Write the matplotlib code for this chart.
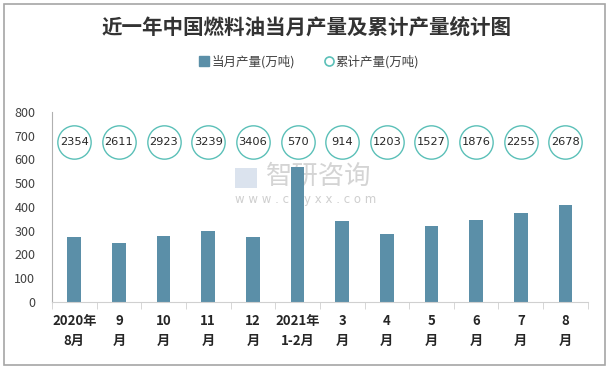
import matplotlib
matplotlib.use("Agg")
import matplotlib.pyplot as plt
from matplotlib.patches import Rectangle
from matplotlib.lines import Line2D

plt.rcParams['font.family'] = ['Noto Sans CJK SC', 'DejaVu Sans']

# 数据
months = ['2020年\n8月', '9\n月', '10\n月', '11\n月', '12\n月', '2021年\n1-2月',
          '3\n月', '4\n月', '5\n月', '6\n月', '7\n月', '8\n月']
monthly = [274, 247, 278, 299, 274, 570, 341, 286, 320, 345, 375, 408]
cumulative = [2354, 2611, 2923, 3239, 3406, 570, 914, 1203, 1527, 1876, 2255, 2678]
circle_level = 675

bar_color = '#5B8FA8'
circle_color = '#5BC0B8'

fig = plt.figure(figsize=(6.11, 3.69), dpi=100)
fig.patches.append(Rectangle((0.006, 0.01), 0.984, 0.978, transform=fig.transFigure,
                             fill=False, edgecolor='#a6a6a6', linewidth=1.2))

ax = fig.add_axes([0.085, 0.1816, 0.877, 0.515])
x = list(range(len(months)))
ax.bar(x, monthly, width=0.31, color=bar_color, zorder=2)
ax.plot(x, [circle_level] * len(x), linestyle='none', marker='o', markersize=24,
        markerfacecolor='white', markeredgecolor=circle_color, markeredgewidth=1.0, zorder=3)
for xi, v in zip(x, cumulative):
    ax.text(xi, circle_level, str(v), ha='center', va='center', fontsize=8.2,
            color='#262626', zorder=4, family='DejaVu Sans')

ax.set_xlim(-0.5, len(months) - 0.5)
ax.set_ylim(0, 800)
ax.set_yticks(range(0, 801, 100))
ax.tick_params(axis='y', length=0, labelsize=9, colors='#404040', pad=12)
ax.set_xticks(x)
ax.set_xticklabels(months, fontsize=9.5, fontweight='bold', color='#262626', linespacing=1.5)
ax.tick_params(axis='x', length=0, pad=9)
ax.set_xticks([i - 0.5 for i in range(len(months) + 1)], minor=True)
ax.tick_params(axis='x', which='minor', length=5, color='#d0d0d0', direction='out')
for s in ['top', 'right']:
    ax.spines[s].set_visible(False)
ax.spines['left'].set_color('#b0b0b0')
ax.spines['bottom'].set_color('#d0d0d0')

# 水印 (画在柱子后面)
ax.text(0.521, 0.522, '智研咨询', ha='center', va='center', fontsize=19,
        color='#d4d4d4', zorder=1, transform=fig.transFigure)
ax.text(0.5, 0.46, 'w w w . c h y x x . c o m', ha='center', va='center', fontsize=8.5,
        color='#cfcfcf', family='DejaVu Sans', zorder=1, transform=fig.transFigure)
ax.add_patch(Rectangle((0.385, 0.49), 0.036, 0.055, transform=fig.transFigure,
                       facecolor='#dbe3ee', edgecolor='none', zorder=1, clip_on=False))

fig.text(0.502, 0.925, '近一年中国燃料油当月产量及累计产量统计图', ha='center', va='center',
         fontsize=14.8, fontweight='bold', color='#333333')

handles = [
    Line2D([], [], linestyle='none', marker='s', markersize=6.5, color=bar_color),
    Line2D([], [], linestyle='none', marker='o', markersize=6.5,
           markerfacecolor='white', markeredgecolor=circle_color, markeredgewidth=1.2),
]
fig.legend(handles, ['当月产量(万吨)', '累计产量(万吨)'], loc='center', bbox_to_anchor=(0.505, 0.832),
           ncol=2, frameon=False, fontsize=9, handletextpad=0.05, columnspacing=2.2,
           handlelength=1.0, labelcolor='#404040')

fig.savefig('out.png', dpi=100)
